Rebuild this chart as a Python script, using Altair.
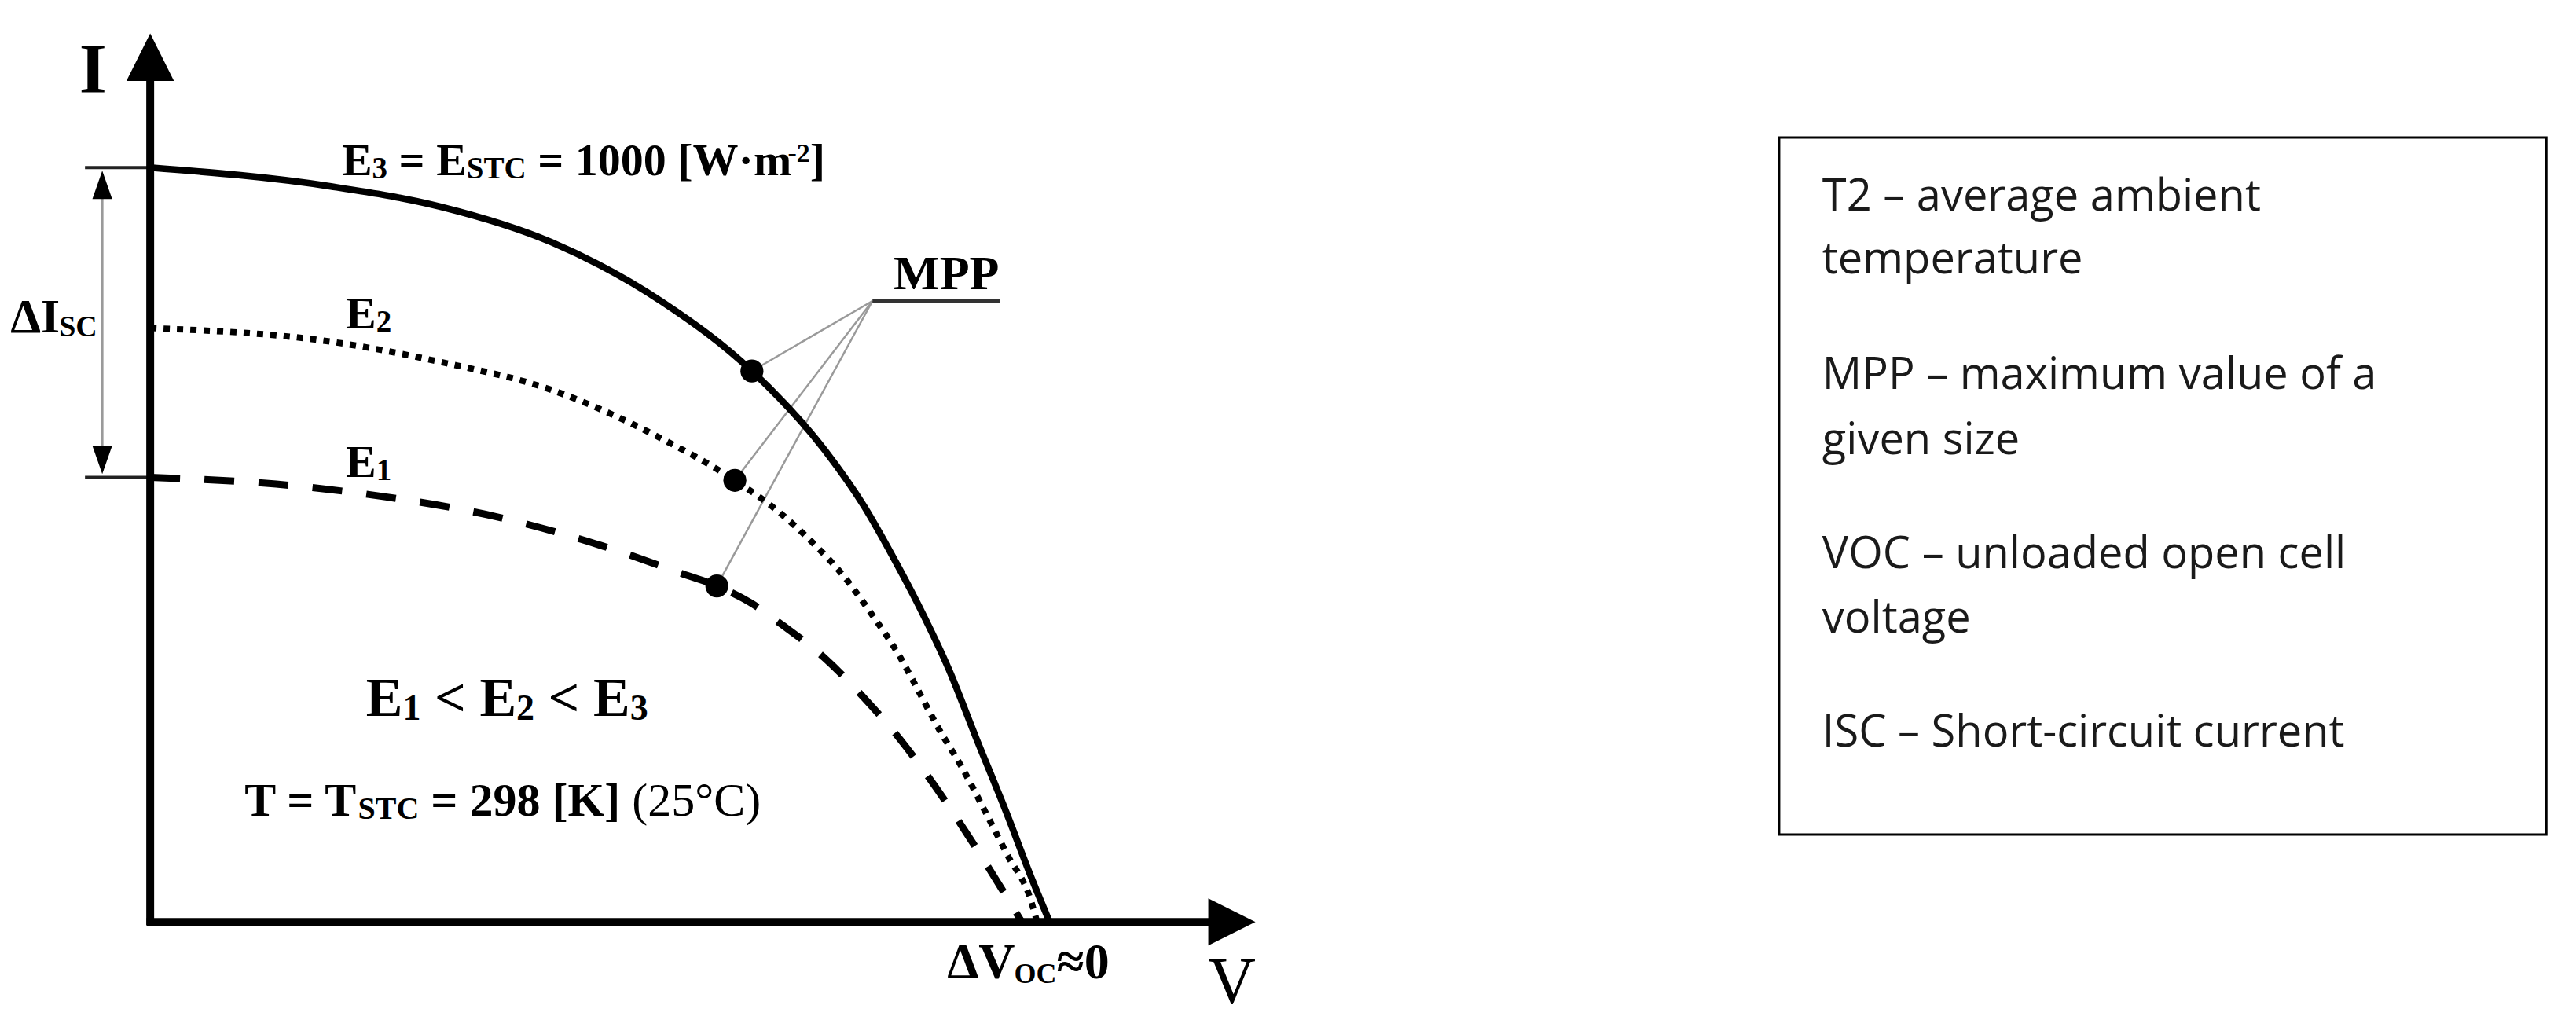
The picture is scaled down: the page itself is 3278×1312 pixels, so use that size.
import altair as alt
import pandas as pd

# ---------------- data (diagram units: V = 100 at Voc of E3, I = 100 at Isc of E3) -------------
E3_V = [0, 20.1, 32.3, 44.6, 56.9, 66.9, 75.0, 79.4, 82.6, 85.6, 88.8, 91.9, 95.1, 98.1, 100.0]
E3_I = [100.1, 97.6, 94.9, 90.2, 82.3, 73.1, 62.6, 55.1, 48.4, 41.6, 33.5, 24.2, 14.8, 5.5, 0]
E2_V = [0, 20.1, 32.3, 44.6, 56.9, 65.0, 69.8, 73.6, 77.1, 80.3, 83.2, 85.0, 87.5, 90.3, 92.9, 95.3, 97.9, 98.6]
E2_I = [78.8, 77.0, 74.3, 70.6, 64.1, 58.6, 54.5, 50.4, 45.9, 40.7, 35.5, 31.6, 26.0, 20.4, 14.5, 8.9, 2.9, 0]
E1_V = [0, 14.0, 26.2, 38.4, 50.8, 59.2, 63.0, 66.7, 70.3, 75.1, 79.4, 83.4, 87.2, 90.7, 94.1, 96.9]
E1_I = [59.0, 58.1, 56.4, 53.8, 49.7, 46.2, 44.6, 42.4, 39.4, 34.9, 29.7, 24.2, 18.1, 11.9, 5.5, 0]
MPP_V = [66.9, 65.0, 63.0]
MPP_I = [73.1, 58.6, 44.6]
MPP_HUB = (80.3, 82.4)
MPP_UNDERLINE_END = 94.5
ISC_LEVELS = [100.1, 59.0]

BOX_LINES = ["T2 – average ambient", "temperature", "MPP – maximum value of a",
             "given size", "VOC – unloaded open cell", "voltage", "ISC – Short-circuit current"]
BOX_BASELINES = [94.4, 86.1, 70.7, 62.1, 46.9, 38.4, 23.3]
BOX_X = 185.9
BOX_RECT = (181.1, 266.4, 104.1, 11.6)

# ---------------- layout helpers ----------------
W, H = 3262, 1290
XDOM = [-16, 269]
YDOM = [-13, 121.5]
KX = W / (XDOM[1] - XDOM[0])
KY = H / (YDOM[1] - YDOM[0])

BOLD = {' ': 250, '=': 570, '<': 570, '[': 333, ']': 333, '(': 333, ')': 333, '°': 400,
        '·': 250, '-': 333, '≈': 549, 'Δ': 612, 'E': 667, 'W': 1000, 'S': 556, 'T': 667,
        'C': 722, 'K': 778, 'V': 722, 'O': 778, 'I': 389, 'M': 944, 'P': 611, 'm': 833}
REG = {' ': 250, '(': 333, ')': 333, '°': 400, 'C': 667, 'V': 722, 'I': 333}


def layout(av, ai, runs):
    rows = []
    cx = 0.0
    for text, size, shift, bold in runs:
        table = BOLD if bold else REG
        core = text.strip(' ')
        lead = len(text) - len(text.lstrip(' '))
        trail = len(text) - len(text.rstrip(' '))
        cx += lead * table[' '] / 1000 * size
        rows.append(dict(t=core, x=av + cx / KX, y=ai + shift / KY, size=size, bold=bold))
        cx += sum(table.get(c, 500) for c in core) / 1000 * size
        cx += trail * table[' '] / 1000 * size
    return rows


B = True
texts = []
texts += layout(21.3, 99.05, [("E", 58, 0, B), ("3", 39, -4, B), (" = ", 58, 0, B), ("E", 58, 0, B),
                              ("STC", 39, -4, B), (" = 1000 [W·m", 58, 0, B), ("-2", 34, 17, B), ("]", 58, 0, B)])
texts += layout(21.75, 78.8, [("E", 58, 0, B), ("2", 39, -4, B)])
texts += layout(21.75, 59.0, [("E", 58, 0, B), ("1", 39, -4, B)])
texts += layout(24.0, 27.3, [("E", 70, 0, B), ("1", 46, -5, B), (" < ", 70, 0, B), ("E", 70, 0, B),
                             ("2", 46, -5, B), (" < ", 70, 0, B), ("E", 70, 0, B), ("3", 46, -5, B)])
texts += layout(10.5, 14.1, [("T = T", 60, 0, B), ("STC", 40, -4, B), (" = 298 [K] ", 60, 0, B),
                             ("(25°C)", 60, 0, False)])
texts += layout(-15.55, 78.2, [("ΔI", 62, 0, B), ("SC", 38, -5, B)])
texts += layout(88.6, -7.5, [("ΔV", 64, 0, B), ("OC", 36, -6, B), ("≈0", 64, 0, B)])
texts += layout(82.65, 83.93, [("MPP", 62, 0, B)])
texts += layout(-7.9, 110.0, [("I", 90, 0, B)])
texts += layout(117.6, -10.8, [("V", 84, 0, False)])

df_text = pd.DataFrame(texts)
df_bold = df_text[df_text.bold]
df_reg = df_text[~df_text.bold]

# ---------------- encodings ----------------
def X(f="x"):
    return alt.X(f"{f}:Q", scale=alt.Scale(domain=XDOM, nice=False, zero=False), axis=None)


def Y(f="y"):
    return alt.Y(f"{f}:Q", scale=alt.Scale(domain=YDOM, nice=False, zero=False), axis=None)


def curve(vs, is_, **mk):
    df = pd.DataFrame({"x": vs, "y": is_, "o": range(len(vs))})
    return alt.Chart(df).mark_line(color="black", interpolate="monotone", **mk).encode(
        x=X(), y=Y(), order="o:Q")


e3 = curve(E3_V, E3_I, strokeWidth=8.5)
e2 = curve(E2_V, E2_I, strokeWidth=8, strokeDash=[8, 9], strokeCap="butt")
e1 = curve(E1_V, E1_I, strokeWidth=9, strokeDash=[38, 31], strokeCap="butt")

axes_df = pd.DataFrame({"x": [0, -0.4], "x2": [0, 117.7], "y": [-0.4, 0], "y2": [111.6, 0]})
axes = alt.Chart(axes_df).mark_rule(color="black", strokeWidth=10, strokeCap="butt").encode(
    x=X(), x2="x2:Q", y=Y(), y2="y2:Q")

arrow_df = pd.DataFrame({
    "x": [0, 120.26, -5.33, -5.33],
    "y": [114.74, 0, 97.8, 61.31],
    "shape": ["M0,-1L1,1L-1,1Z", "M1,0L-1,-1L-1,1Z", "M0,-1L0.7,1L-0.7,1Z", "M0,1L0.7,-1L-0.7,-1Z"],
    "size": [3660, 3600, 1296, 1296],
})
arrows = alt.Chart(arrow_df).mark_point(filled=True, opacity=1, color="black", strokeWidth=0).encode(
    x=X(), y=Y(), shape=alt.Shape("shape:N", scale=None), size=alt.Size("size:Q", scale=None))

ticks_df = pd.DataFrame({"x": [-7.25] * 2, "x2": [0] * 2, "y": ISC_LEVELS, "y2": ISC_LEVELS})
ticks = alt.Chart(ticks_df).mark_rule(color="#222222", strokeWidth=4).encode(
    x=X(), x2="x2:Q", y=Y(), y2="y2:Q")

disc_df = pd.DataFrame({"x": [-5.33], "x2": [-5.33], "y": [99.3], "y2": [59.8]})
disc = alt.Chart(disc_df).mark_rule(color="#9a9a9a", strokeWidth=3).encode(
    x=X(), x2="x2:Q", y=Y(), y2="y2:Q")

lead_df = pd.DataFrame({"x": [MPP_HUB[0]] * 3, "y": [MPP_HUB[1]] * 3, "x2": MPP_V, "y2": MPP_I})
leaders = alt.Chart(lead_df).mark_rule(color="#9a9a9a", strokeWidth=2.5).encode(
    x=X(), x2="x2:Q", y=Y(), y2="y2:Q")

ul_df = pd.DataFrame({"x": [MPP_HUB[0]], "x2": [MPP_UNDERLINE_END], "y": [MPP_HUB[1]], "y2": [MPP_HUB[1]]})
underline = alt.Chart(ul_df).mark_rule(color="#333333", strokeWidth=4).encode(
    x=X(), x2="x2:Q", y=Y(), y2="y2:Q")

dots = alt.Chart(pd.DataFrame({"x": MPP_V, "y": MPP_I})).mark_circle(
    color="black", opacity=1, size=855).encode(x=X(), y=Y())

box_df = pd.DataFrame({"x": [BOX_RECT[0]], "x2": [BOX_RECT[1]], "y": [BOX_RECT[2]], "y2": [BOX_RECT[3]]})
box = alt.Chart(box_df).mark_rect(fillOpacity=0, stroke="black", strokeWidth=3).encode(
    x=X(), x2="x2:Q", y=Y(), y2="y2:Q")

box_text = alt.Chart(pd.DataFrame({"t": BOX_LINES, "x": [BOX_X] * len(BOX_LINES), "y": BOX_BASELINES})).mark_text(
    font="Open Sans", fontSize=56, align="left", baseline="alphabetic", color="#1a1a1a").encode(
    x=X(), y=Y(), text="t:N")

txt_b = alt.Chart(df_bold).mark_text(font="Liberation Serif", fontWeight="bold", align="left",
                                     baseline="alphabetic", color="black").encode(
    x=X(), y=Y(), text="t:N", size=alt.Size("size:Q", scale=None))
txt_r = alt.Chart(df_reg).mark_text(font="Liberation Serif", align="left",
                                    baseline="alphabetic", color="black").encode(
    x=X(), y=Y(), text="t:N", size=alt.Size("size:Q", scale=None))

chart = alt.layer(
    box, disc, ticks, leaders, underline, e1, e2, e3, axes, arrows, dots, box_text, txt_b, txt_r
).properties(
    width=W, height=H, padding=0, autosize=alt.AutoSizeParams(type="none"), background="white"
).configure_view(strokeWidth=0)

chart.save("out.html", embed_options={"renderer": "svg", "actions": False})
